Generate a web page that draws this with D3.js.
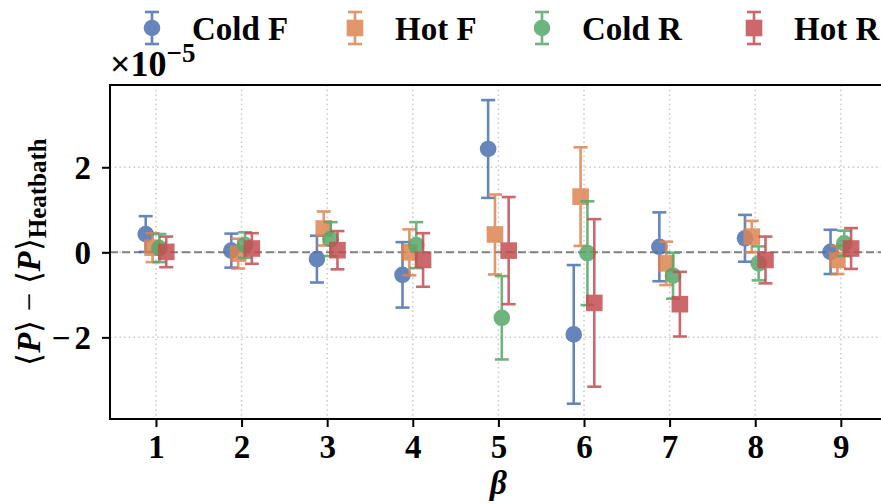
<!DOCTYPE html>
<html>
<head>
<meta charset="utf-8">
<script src="https://cdn.jsdelivr.net/npm/d3@7"></script>
<style>
  html, body { margin: 0; padding: 0; background: #fff; }
  svg { display: block; }
  text { font-family: "Liberation Serif", "Times New Roman", serif; font-weight: bold; fill: #000; }
</style>
</head>
<body>
<svg id="chart" width="881" height="504"></svg>
<script>
// ---- data (values in units of 1e-5) ----
const betas = [1, 2, 3, 4, 5, 6, 7, 8, 9];
const seriesNames = ["Cold F", "Hot F", "Cold R", "Hot R"];
const coldF    = [0.43, 0.04, -0.16, -0.53, 2.43, -1.93, 0.13, 0.33, 0.01];
const coldFErr = [0.42, 0.40, 0.55, 0.77, 1.15, 1.63, 0.81, 0.55, 0.52];
const hotF     = [0.11, -0.03, 0.56, 0.00, 0.42, 1.31, -0.26, 0.37, -0.18];
const hotFErr  = [0.34, 0.35, 0.40, 0.54, 0.94, 1.16, 0.51, 0.37, 0.33];
const coldR    = [0.10, 0.17, 0.31, 0.17, -1.54, -0.02, -0.55, -0.26, 0.21];
const coldRErr = [0.33, 0.30, 0.40, 0.54, 0.98, 1.22, 0.54, 0.40, 0.30];
const hotR     = [0.01, 0.09, 0.05, -0.18, 0.04, -1.19, -1.22, -0.18, 0.09];
const hotRErr  = [0.36, 0.36, 0.45, 0.63, 1.26, 1.97, 0.76, 0.55, 0.48];
const xTicks = [1, 2, 3, 4, 5, 6, 7, 8, 9];
const yTicks = [-2, 0, 2];
const yExponentLabel = "−5";

// ---- styling ----
const colors = ["#4C72B0", "#DD8452", "#55A868", "#C44E52"];
const shapes = ["circle", "square", "circle", "square"];
const offsets = [-0.12, -0.04, 0.04, 0.12];
const seriesVals = [coldF, hotF, coldR, hotR];
const seriesErrs = [coldFErr, hotFErr, coldRErr, hotRErr];
const FS = 33;

const svg = d3.select("#chart");
const pL = 110, pT = 85, pB = 419, pR = 886.8;

const x = d3.scaleLinear().domain([0.463, 9.537]).range([pL, pR]);
const y = d3.scaleLinear().domain([-3.92, 3.935]).range([pB, pT]);

// grid
const grid = svg.append("g");
grid.selectAll("line.gx").data(xTicks).enter().append("line")
  .attr("x1", d => x(d)).attr("x2", d => x(d))
  .attr("y1", pT).attr("y2", pB)
  .attr("stroke", "#c8c8c8").attr("stroke-width", 1.5)
  .attr("stroke-dasharray", "1.5,3.2");
grid.selectAll("line.gy").data(yTicks).enter().append("line")
  .attr("x1", pL).attr("x2", pR)
  .attr("y1", d => y(d)).attr("y2", d => y(d))
  .attr("stroke", "#c8c8c8").attr("stroke-width", 1.5)
  .attr("stroke-dasharray", "1.5,3.2");

// zero reference line
svg.append("line")
  .attr("x1", pL).attr("x2", pR)
  .attr("y1", y(0)).attr("y2", y(0))
  .attr("stroke", "#808080").attr("stroke-width", 2)
  .attr("stroke-dasharray", "8,4");

// series
const capHalf = 7, r = 8.3;
seriesVals.forEach((vals, si) => {
  const g = svg.append("g").attr("opacity", 0.85);
  const col = colors[si];
  vals.forEach((v, i) => {
    const cx = x(betas[i] + offsets[si]);
    const e = seriesErrs[si][i];
    const y1 = y(v + e), y2 = y(v - e);
    g.append("line").attr("x1", cx).attr("x2", cx).attr("y1", y1).attr("y2", y2)
      .attr("stroke", col).attr("stroke-width", 2.6);
    [y1, y2].forEach(yy => g.append("line")
      .attr("x1", cx - capHalf).attr("x2", cx + capHalf).attr("y1", yy).attr("y2", yy)
      .attr("stroke", col).attr("stroke-width", 2.6));
    if (shapes[si] === "circle") {
      g.append("circle").attr("cx", cx).attr("cy", y(v)).attr("r", r).attr("fill", col);
    } else {
      g.append("rect").attr("x", cx - r).attr("y", y(v) - r)
        .attr("width", 2 * r).attr("height", 2 * r).attr("fill", col);
    }
  });
});

// axes
const xAxis = svg.append("g").attr("transform", `translate(0,${pB})`)
  .call(d3.axisBottom(x).tickValues(xTicks).tickSize(8).tickPadding(8).tickFormat(d3.format("d")));
const yAxis = svg.append("g").attr("transform", `translate(${pL},0)`)
  .call(d3.axisLeft(y).tickValues(yTicks).tickSize(8).tickPadding(11)
    .tickFormat(d => String(Math.abs(d))));
[xAxis, yAxis].forEach(a => {
  a.select(".domain").remove();
  a.selectAll(".tick line").attr("stroke", "#000").attr("stroke-width", 2);
  a.selectAll(".tick text").style("font-size", FS + "px")
    .style("font-family", '"Liberation Serif", serif').style("font-weight", "bold").attr("fill", "#000");
});
xAxis.selectAll(".tick text").attr("dy", "0.71em");
yAxis.selectAll(".tick text").attr("dy", "0.34em");
// negative y labels: wider minus sign spacing as in the reference
yAxis.selectAll(".tick").filter(d => d < 0).select("text").each(function(d) {
  const t = d3.select(this);
  t.text(null);
  t.append("tspan").text("−");
  t.append("tspan").attr("dx", 4).text(String(Math.abs(d)));
});

// spines (left, bottom, top; right is out of view)
svg.append("line").attr("x1", pL).attr("x2", pL).attr("y1", pT - 1).attr("y2", pB + 1)
  .attr("stroke", "#000").attr("stroke-width", 2);
svg.append("line").attr("x1", pL - 1).attr("x2", pR).attr("y1", pB).attr("y2", pB)
  .attr("stroke", "#000").attr("stroke-width", 2);
svg.append("line").attr("x1", pL - 1).attr("x2", pR).attr("y1", pT).attr("y2", pT)
  .attr("stroke", "#000").attr("stroke-width", 2);

// offset text ×10^-5
const off = svg.append("text").attr("x", 110).attr("y", 76).style("font-size", "36px");
off.append("tspan").text("×10");
off.append("tspan").attr("dy", -14).style("font-size", "27px").text(yExponentLabel);

// x label
svg.append("text").attr("x", (pL + pR) / 2).attr("y", 494).attr("text-anchor", "middle")
  .style("font-size", FS + "px").style("font-style", "italic").text("β");

// y label
const yl = svg.append("text").attr("transform", `translate(40,${(pT + pB) / 2}) rotate(-90)`)
  .attr("text-anchor", "middle").style("font-size", FS + "px");
yl.append("tspan").style("font-weight", "normal").text("⟨");
yl.append("tspan").style("font-style", "italic").text("P");
yl.append("tspan").style("font-weight", "normal").text("⟩ − ⟨");
yl.append("tspan").style("font-style", "italic").text("P");
yl.append("tspan").style("font-weight", "normal").text("⟩");
yl.append("tspan").attr("dy", 6).style("font-size", "25px").text("Heatbath");

// legend
const legX = [152, 355, 542, 754];
seriesNames.forEach((name, si) => {
  const g = svg.append("g");
  const mx = legX[si], my = 28;
  const gm = g.append("g").attr("opacity", 0.85);
  gm.append("line").attr("x1", mx).attr("x2", mx).attr("y1", 12).attr("y2", 44)
    .attr("stroke", colors[si]).attr("stroke-width", 2.6);
  [12, 44].forEach(yy => gm.append("line").attr("x1", mx - 7).attr("x2", mx + 7)
    .attr("y1", yy).attr("y2", yy).attr("stroke", colors[si]).attr("stroke-width", 2.6));
  if (shapes[si] === "circle") {
    gm.append("circle").attr("cx", mx).attr("cy", my).attr("r", r).attr("fill", colors[si]);
  } else {
    gm.append("rect").attr("x", mx - r).attr("y", my - r).attr("width", 2 * r).attr("height", 2 * r)
      .attr("fill", colors[si]);
  }
  g.append("text").attr("x", mx + 40).attr("y", 40).style("font-size", FS + "px").text(name);
});
</script>
</body>
</html>
